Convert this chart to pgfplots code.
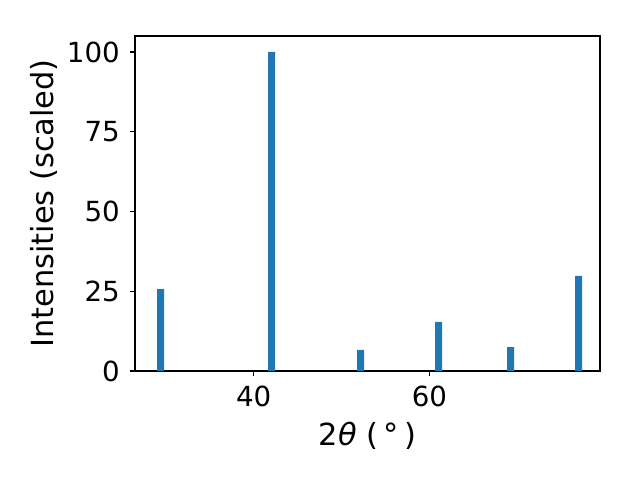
\documentclass[border=0pt]{standalone}
\usepackage{pgfplots}
\pgfplotsset{compat=1.18}
\usepackage{fontspec}
\setmainfont{DejaVu Sans}
\definecolor{mplblue}{HTML}{1F77B4}
\begin{document}
\fontsize{22}{26}\selectfont
\begin{tikzpicture}
\begin{axis}[
  scale only axis,
  width=4.65in, height=3.35in,
  xmin=26.5, xmax=79.4,
  ymin=0, ymax=105,
  xtick={40,60}, ytick={0,25,50,75,100},
  tick align=outside,
  major tick length=3.5pt,
  xtick pos=bottom, ytick pos=left,
  tick style={black, line width=0.8pt},
  axis line style={line width=0.8pt},
  /pgf/number format/assume math mode=true,
  ticklabel style={font=\fontsize{20}{24}\selectfont},
  label style={font=\fontsize{22}{26}\selectfont},
  xlabel={2\textit{θ} (\kern4pt°\kern4pt)},
  ylabel={Intensities (scaled)},
  xlabel style={yshift=4pt},
  ylabel style={yshift=-8pt},
]
\addplot[ybar, bar width=0.8, bar shift=0pt, fill=mplblue, draw=none] coordinates {
(29.42,25.7) (42.05,100) (52.17,6.6) (61.05,15.4) (69.24,7.5) (76.97,29.8)
};
\end{axis}
\path[use as bounding box] (-1.35in,-1.09in) rectangle (5.05in,3.71in);
\end{tikzpicture}
\end{document}
